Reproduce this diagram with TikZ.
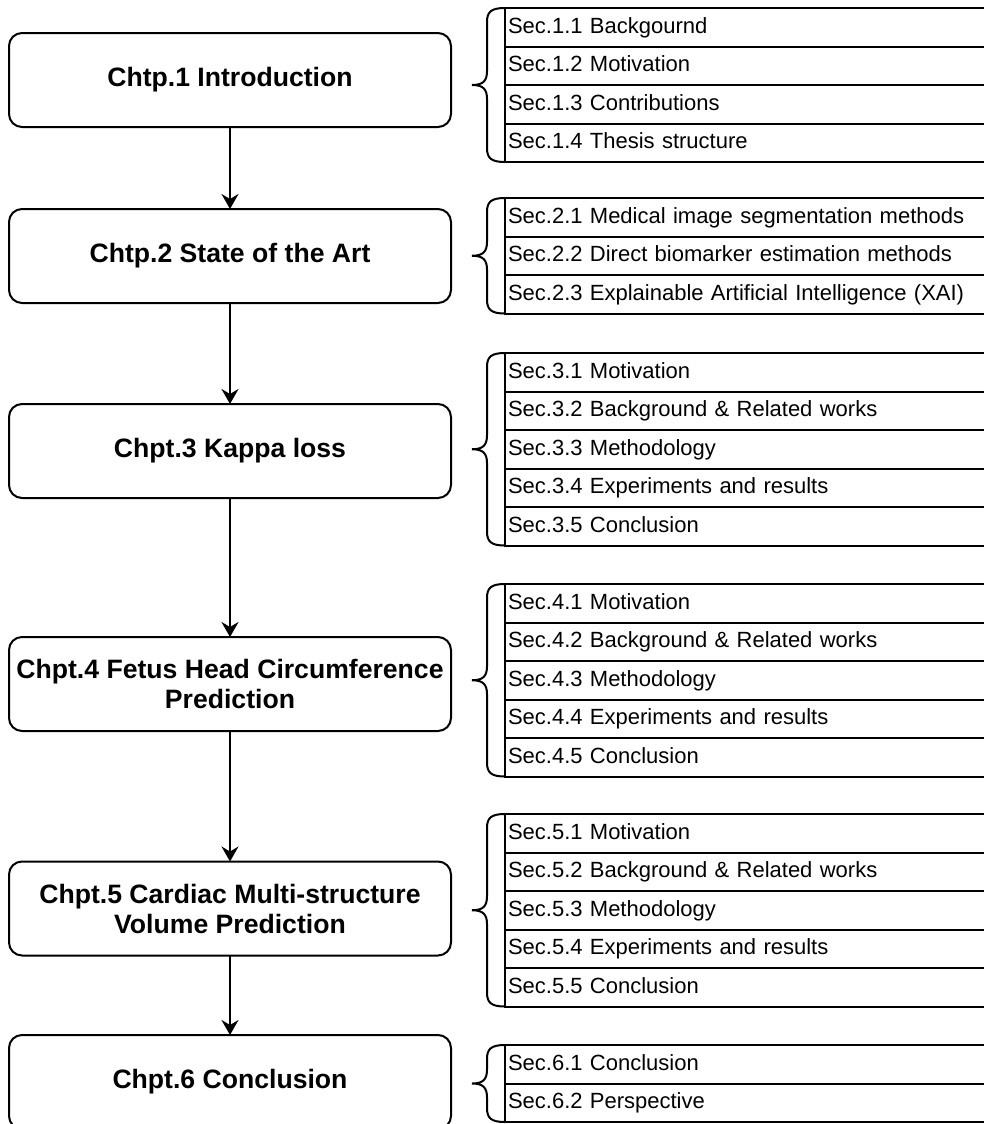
\documentclass[tikz,border=0pt]{standalone}
\usepackage{fontspec}
\setmainfont{Liberation Sans}
\usetikzlibrary{arrows.meta,calc}
\tikzset{
  chap/.style={draw, line width=1pt, rounded corners=6.5pt, minimum width=221pt,
    minimum height=47pt, align=center, outer sep=0pt, fill=white,
    font=\bfseries\fontsize{13.3}{15}\selectfont},
  secrow/.style={draw, line width=1pt, anchor=west, text width=240pt, inner xsep=1.5pt,
    inner ysep=0pt, text height=8.2pt, text depth=2.4pt, minimum height=19.25pt,
    align=left, outer sep=0pt, font=\fontsize{11}{13}\selectfont},
  brc/.style={line width=1pt},
  flow/.style={-{Stealth[length=7.5pt,width=8.5pt,inset=2.5pt]}, line width=1pt}
}
\newcommand{\chbrace}[2]{%
  \draw[brc] let \p1=(#1.north west), \p2=(#2.south west),
    \p3=($(#1.north west)!0.5!(#2.south west)$) in
    (\x1,\y1) .. controls (\x1-7pt,\y1) and (\x1-9pt,\y1-2pt) .. (\x1-9pt,\y1-7pt)
    -- (\x1-9pt,\y3+7pt) .. controls (\x1-9pt,\y3+2pt) and (\x1-11pt,\y3) .. (\x1-16.5pt,\y3)
    .. controls (\x1-11pt,\y3) and (\x1-9pt,\y3-2pt) .. (\x1-9pt,\y3-7pt)
    -- (\x1-9pt,\y2+7pt) .. controls (\x1-9pt,\y2+2pt) and (\x1-7pt,\y2) .. (\x1,\y2);}
\begin{document}
\begin{tikzpicture}[x=0.5pt,y=-0.5pt]
\useasboundingbox (0,0) rectangle (984,1124);
\clip (0,0) rectangle (984,1124);
% chapters
\node[chap] (c1) at (230,80) {Chtp.1 Introduction};
\node[chap] (c2) at (230,256) {Chtp.2 State of the Art};
\node[chap] (c3) at (230,451) {Chpt.3 Kappa loss};
\node[chap] (c4) at (230,684) {Chpt.4 Fetus Head Circumference\\Prediction};
\node[chap] (c5) at (230,908.5) {Chpt.5 Cardiac Multi-structure\\Volume Prediction};
\node[chap] (c6) at (230,1082) {Chpt.6 Conclusion};
\draw[flow] (c1) -- (c2);
\draw[flow] (c2) -- (c3);
\draw[flow] (c3) -- (c4);
\draw[flow] (c4) -- (c5);
\draw[flow] (c5) -- (c6);
% sections 1
\node[secrow] (s11) at (505,27.25) {Sec.1.1 Backgournd};
\node[secrow] (s12) at (505,65.75) {Sec.1.2 Motivation};
\node[secrow] (s13) at (505,104.25) {Sec.1.3 Contributions};
\node[secrow] (s14) at (505,142.75) {Sec.1.4 Thesis structure};
\chbrace{s11}{s14}
% sections 2
\node[secrow] (s21) at (505,217.25) {Sec.2.1 Medical image segmentation methods};
\node[secrow] (s22) at (505,255.75) {Sec.2.2 Direct biomarker estimation methods};
\node[secrow] (s23) at (505,294.25) {Sec.2.3 Explainable Artificial Intelligence (XAI)};
\chbrace{s21}{s23}
% sections 3
\node[secrow] (s31) at (505,372.25) {Sec.3.1 Motivation};
\node[secrow] (s32) at (505,410.75) {Sec.3.2 Background \& Related works};
\node[secrow] (s33) at (505,449.25) {Sec.3.3 Methodology};
\node[secrow] (s34) at (505,487.75) {Sec.3.4 Experiments and results};
\node[secrow] (s35) at (505,526.25) {Sec.3.5 Conclusion};
\chbrace{s31}{s35}
% sections 4
\node[secrow] (s41) at (505,603.25) {Sec.4.1 Motivation};
\node[secrow] (s42) at (505,641.75) {Sec.4.2 Background \& Related works};
\node[secrow] (s43) at (505,680.25) {Sec.4.3 Methodology};
\node[secrow] (s44) at (505,718.75) {Sec.4.4 Experiments and results};
\node[secrow] (s45) at (505,757.25) {Sec.4.5 Conclusion};
\chbrace{s41}{s45}
% sections 5
\node[secrow] (s51) at (505,833.25) {Sec.5.1 Motivation};
\node[secrow] (s52) at (505,871.75) {Sec.5.2 Background \& Related works};
\node[secrow] (s53) at (505,910.25) {Sec.5.3 Methodology};
\node[secrow] (s54) at (505,948.75) {Sec.5.4 Experiments and results};
\node[secrow] (s55) at (505,987.25) {Sec.5.5 Conclusion};
\chbrace{s51}{s55}
% sections 6
\node[secrow] (s61) at (505,1064.25) {Sec.6.1 Conclusion};
\node[secrow] (s62) at (505,1102.75) {Sec.6.2 Perspective};
\chbrace{s61}{s62}
\end{tikzpicture}
\end{document}
